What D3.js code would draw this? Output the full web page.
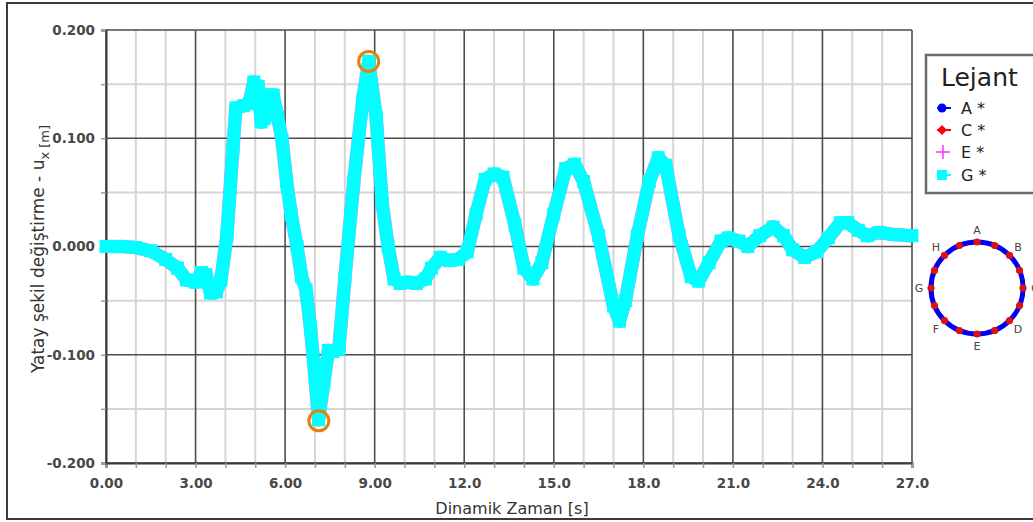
<!DOCTYPE html>
<html>
<head>
<meta charset="utf-8">
<script src="https://cdn.jsdelivr.net/npm/d3@7"></script>
<style>
  body { margin: 0; background: #fff; }
  svg { display: block; font-family: "DejaVu Sans", sans-serif; }
</style>
</head>
<body>
<div id="chart"></div>
<script>
// time [s] and horizontal displacement [m]
const TIMES = [0.0, 0.5, 1.0, 1.5, 2.0, 2.4, 2.7, 3.0, 3.2, 3.35, 3.5, 3.7, 3.85, 4.05, 4.25, 4.35, 4.6, 4.8, 4.95, 5.1,
  5.2, 5.3, 5.45, 5.6, 5.75, 5.9, 6.05, 6.2, 6.4, 6.55, 6.7, 6.85, 7.0, 7.12, 7.3, 7.45, 7.6, 7.8, 8.0, 8.3,
  8.6, 8.8, 9.05, 9.25, 9.45, 9.65, 9.85, 10.1, 10.4, 10.7, 10.9, 11.2, 11.5, 11.8, 12.1, 12.4, 12.7, 13.0, 13.3, 13.7,
  14.0, 14.3, 14.6, 15.0, 15.4, 15.7, 16.0, 16.5, 17.0, 17.2, 17.4, 17.8, 18.2, 18.5, 18.75, 19.2, 19.6, 19.85, 20.2, 20.6,
  20.85, 21.2, 21.5, 21.9, 22.35, 22.7, 23.0, 23.4, 23.8, 24.2, 24.6, 24.85, 25.2, 25.5, 25.9, 26.4, 27.0];
const UX = [0.000, 0.000, -0.001, -0.004, -0.012, -0.020, -0.031, -0.033, -0.024, -0.026, -0.043, -0.042, -0.031, 0.010, 0.090, 0.128, 0.130, 0.132, 0.152, 0.148,
  0.115, 0.118, 0.140, 0.140, 0.120, 0.098, 0.060, 0.030, 0.000, -0.028, -0.040, -0.075, -0.120, -0.160, -0.125, -0.096, -0.097, -0.095, -0.030, 0.060,
  0.135, 0.171, 0.120, 0.040, 0.000, -0.030, -0.034, -0.033, -0.034, -0.030, -0.020, -0.010, -0.013, -0.012, -0.005, 0.030, 0.062, 0.067, 0.064, 0.020,
  -0.020, -0.030, -0.015, 0.030, 0.072, 0.076, 0.060, 0.010, -0.055, -0.069, -0.050, 0.010, 0.060, 0.082, 0.075, 0.010, -0.028, -0.032, -0.015, 0.005,
  0.008, 0.005, 0.000, 0.010, 0.018, 0.010, -0.003, -0.010, -0.005, 0.008, 0.022, 0.022, 0.015, 0.010, 0.013, 0.011, 0.010];

const SERIES = ["A", "C", "E", "G"];
const SERIES_COLORS = ["#0000ff", "#ff0000", "#ff33ff", "#00ffff"];

// peaks marked with orange rings
const MARK_T = [8.8, 7.13];
const MARK_UX = [0.171, -0.161];

const X_TICKS = [0, 3, 6, 9, 12, 15, 18, 21, 24, 27];
const X_LABELS = ["0.00", "3.00", "6.00", "9.00", "12.0", "15.0", "18.0", "21.0", "24.0", "27.0"];
const Y_TICKS = [0.2, 0.1, 0, -0.1, -0.2];
const Y_LABELS = ["0.200", "0.100", "0.000", "-0.100", "-0.200"];

const RING_LABELS = ["A", "B", "C", "D", "E", "F", "G", "H"];

const W = 1033, H = 522;
const mLeft = 106, mTop = 30, pw = 806, ph = 433;

const svg = d3.select("#chart").append("svg").attr("width", W).attr("height", H);

// outer frame
svg.append("rect").attr("x", 7).attr("y", 3).attr("width", 1040).attr("height", 516)
  .attr("fill", "none").attr("stroke", "#3a3a3a").attr("stroke-width", 2);

const x = d3.scaleLinear().domain([0, 27]).range([mLeft, mLeft + pw]);
const y = d3.scaleLinear().domain([-0.2, 0.2]).range([mTop + ph, mTop]);

const minorX = d3.range(0, 28, 1);
const minorY = d3.range(-4, 5).map((k) => k * 0.05);

// minor grid
svg.append("g").selectAll("line").data(minorX.filter((v) => v % 3 !== 0)).enter().append("line")
  .attr("x1", (d) => x(d)).attr("x2", (d) => x(d)).attr("y1", mTop).attr("y2", mTop + ph)
  .attr("stroke", "#d6d6d6").attr("stroke-width", 2);
svg.append("g").selectAll("line").data(minorY.filter((v, i) => i % 2 === 1)).enter().append("line")
  .attr("x1", mLeft).attr("x2", mLeft + pw).attr("y1", (d) => y(d)).attr("y2", (d) => y(d))
  .attr("stroke", "#d6d6d6").attr("stroke-width", 2);

// major grid
svg.append("g").selectAll("line").data(X_TICKS).enter().append("line")
  .attr("x1", (d) => x(d)).attr("x2", (d) => x(d)).attr("y1", mTop).attr("y2", mTop + ph)
  .attr("stroke", "#4d4d4d").attr("stroke-width", 1.6);
svg.append("g").selectAll("line").data(Y_TICKS).enter().append("line")
  .attr("x1", mLeft).attr("x2", mLeft + pw).attr("y1", (d) => y(d)).attr("y2", (d) => y(d))
  .attr("stroke", "#4d4d4d").attr("stroke-width", 1.6);

// axes
const xAxis = d3.axisBottom(x).tickValues(minorX).tickSize(5).tickPadding(10)
  .tickFormat((d) => { const i = X_TICKS.indexOf(d); return i < 0 ? "" : X_LABELS[i]; });
const yAxis = d3.axisLeft(y).tickValues(minorY).tickSize(5).tickPadding(6)
  .tickFormat((d) => { const i = Y_TICKS.findIndex((t) => Math.abs(t - d) < 1e-9); return i < 0 ? "" : Y_LABELS[i]; });

const gx = svg.append("g").attr("transform", "translate(0," + (mTop + ph) + ")").call(xAxis);
const gy = svg.append("g").attr("transform", "translate(" + mLeft + ",0)").call(yAxis);
[gx, gy].forEach((g) => {
  g.select(".domain").attr("stroke", "#3a3a3a").attr("stroke-width", 2);
  g.selectAll(".tick line").attr("stroke", "#9a9a9a").attr("stroke-width", 1.5);
  g.selectAll("text").attr("font-family", "DejaVu Sans").attr("font-size", 13.5)
    .attr("font-weight", "bold").attr("fill", "#484848");
});

// axis titles
svg.append("text").attr("x", mLeft + pw / 2 + 3).attr("y", 514).attr("text-anchor", "middle")
  .attr("font-size", 16).attr("fill", "#333").text("Dinamik Zaman [s]");

const yt = svg.append("text").attr("transform", "translate(44,249) rotate(-90)")
  .attr("text-anchor", "middle").attr("font-size", 17).attr("fill", "#333");
yt.append("tspan").text("Yatay şekil değiştirme - u");
yt.append("tspan").attr("font-size", 13).attr("dy", 5).text("x [m]");

// series lines
const pts = TIMES.map((t, i) => [t, UX[i]]);
const line = d3.line().x((d) => x(d[0])).y((d) => y(d[1]));

svg.append("path").datum(pts).attr("d", line).attr("fill", "none")
  .attr("stroke", SERIES_COLORS[0]).attr("stroke-width", 2);
svg.append("path").datum(pts).attr("d", line).attr("fill", "none")
  .attr("stroke", SERIES_COLORS[1]).attr("stroke-width", 2);
svg.append("path").datum(pts).attr("d", line).attr("fill", "none")
  .attr("stroke", SERIES_COLORS[2]).attr("stroke-opacity", 0.6)
  .attr("stroke-width", 13.6).attr("stroke-linejoin", "round");
svg.append("path").datum(pts).attr("d", line).attr("fill", "none")
  .attr("stroke", SERIES_COLORS[3]).attr("stroke-width", 13).attr("stroke-linejoin", "round");
svg.append("g").selectAll("rect").data(pts).enter().append("rect")
  .attr("x", (d) => x(d[0]) - 6.5).attr("y", (d) => y(d[1]) - 6.5)
  .attr("width", 13).attr("height", 13).attr("fill", SERIES_COLORS[3]);

// orange rings
svg.append("g").selectAll("circle").data(MARK_T).enter().append("circle")
  .attr("cx", (d) => x(d)).attr("cy", (d, i) => y(MARK_UX[i])).attr("r", 10)
  .attr("fill", "none").attr("stroke", "#e5800e").attr("stroke-width", 3);

// legend
svg.append("rect").attr("x", 926).attr("y", 55).attr("width", 120).attr("height", 138)
  .attr("fill", "#fff").attr("stroke", "#6a6a6a").attr("stroke-width", 2.5);
svg.append("text").attr("x", 941).attr("y", 86).attr("font-size", 25).attr("fill", "#222").text("Lejant");

const legY = [108, 130, 152, 175];
SERIES.forEach((s, i) => {
  const g = svg.append("g").attr("transform", "translate(0," + legY[i] + ")");
  const c = SERIES_COLORS[i];
  if (i !== 2) g.append("line").attr("x1", 937).attr("x2", 951).attr("stroke", c).attr("stroke-width", 2);
  if (i === 0) g.append("circle").attr("cx", 942).attr("r", 4.5).attr("fill", c);
  if (i === 1) g.append("path").attr("d", "M942,-5L947,0L942,5L937,0Z").attr("fill", c);
  if (i === 2) {
    g.append("line").attr("x1", 936).attr("x2", 950).attr("stroke", c).attr("stroke-width", 1.5);
    g.append("line").attr("x1", 943).attr("x2", 943).attr("y1", -7).attr("y2", 7).attr("stroke", c).attr("stroke-width", 1.5);
  }
  if (i === 3) g.append("rect").attr("x", 937).attr("y", -5).attr("width", 10).attr("height", 10).attr("fill", c);
  g.append("text").attr("x", 961).attr("y", 6).attr("font-size", 16).attr("fill", "#222").text(s + " *");
});

// section sketch
const cx = 977, cy = 288, R = 46;
svg.append("circle").attr("cx", cx).attr("cy", cy).attr("r", R)
  .attr("fill", "none").attr("stroke", "#0000ee").attr("stroke-width", 5);
svg.append("g").selectAll("circle").data(d3.range(16)).enter().append("circle")
  .attr("cx", (d) => cx + R * Math.sin(d * Math.PI / 8))
  .attr("cy", (d) => cy - R * Math.cos(d * Math.PI / 8))
  .attr("r", 3.6).attr("fill", "#dd1111");
svg.append("g").selectAll("text").data(RING_LABELS).enter().append("text")
  .attr("x", (d, i) => cx + 58 * Math.sin(i * Math.PI / 4))
  .attr("y", (d, i) => cy - 58 * Math.cos(i * Math.PI / 4) + 4)
  .attr("text-anchor", "middle").attr("font-size", 11).attr("fill", "#444").text((d) => d);
</script>
</body>
</html>
